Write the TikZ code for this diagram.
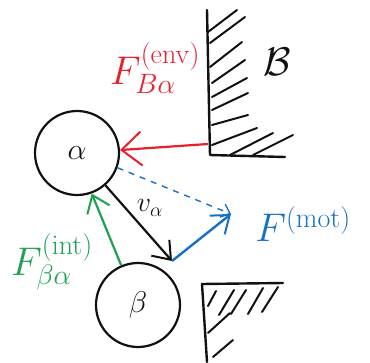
\documentclass[tikz,border=0pt]{standalone}
\usepackage{fix-cm}
\usepackage{amsmath}
\usepackage{xcolor}
\usepackage{tikz}
\usetikzlibrary{arrows.meta}
\definecolor{ink}{HTML}{111111}
\definecolor{penred}{HTML}{E8202C}
\definecolor{penblue}{HTML}{1570C8}
\definecolor{pengreen}{HTML}{1FA052}
\tikzset{
  every node/.style={text=ink},
  ball/.style={circle,draw=ink,line width=2.2pt,minimum size=84pt,inner sep=0pt,font=\fontsize{30}{32}\selectfont},
  wall/.style={draw=ink,line width=2.4pt,line cap=round,line join=round},
  hatch/.style={draw=ink,line width=2pt,line cap=round},
  barb/.style={-{Straight Barb[length=16pt,width=24pt,line width=2pt]}},
  envarr/.style={barb,draw=penred,line width=2.2pt,-{Straight Barb[length=20pt,width=34pt,line width=2pt]}},
  velarr/.style={barb,draw=ink,line width=2.2pt},
  motarr/.style={barb,draw=penblue,line width=2.4pt},
  motdash/.style={draw=penblue,line width=1.4pt,dash pattern=on 6pt off 6pt,-{Straight Barb[length=8pt,width=14pt,line width=1.4pt]}},
  intarr/.style={barb,draw=pengreen,line width=2.2pt},
  lbl/.style={inner sep=0pt,font=\fontsize{40}{44}\selectfont},
  vel/.style={inner sep=0pt,font=\fontsize{28}{30}\selectfont}
}
\begin{document}
\begin{tikzpicture}[x=1pt,y=-1pt]
  \useasboundingbox (0,0) rectangle (370,362);

  \draw[wall] (207,10) -- (210,155) -- (285,157);
  \foreach \xa/\ya/\xb/\yb in {208/32/237/10, 210/43/245/17, 210/67/242/42, 212/83/245/60, 212/97/247/78,
      212/110/248/93, 212/125/248/115, 212/145/257/128, 230/155/273/133, 253/155/293/135}
    \draw[hatch] (\xa,\ya) -- (\xb,\yb);
  \node[lbl] (wallB) at (277,62) {$\mathcal{B}$};

  \draw[wall] (207,362) -- (202,284) -- (283,283);
  \foreach \xa/\ya/\xb/\yb in {208/306/216/291, 219/315/234/290, 231/314/246/290, 248/314/263/288,
      262/312/278/287, 208/333/230/313, 213/357/233/340}
    \draw[hatch] (\xa,\ya) -- (\xb,\yb);

  \node[ball] (alpha) at (77,153) {$\alpha$};
  \node[ball] (beta) at (138,305) {$\beta$};
  \coordinate (envfoot) at (208,144);
  \coordinate (vtip) at (172,261);
  \coordinate (mottip) at (231,214);

  \draw[envarr] (envfoot) -- (alpha);
  \draw[velarr] (alpha) -- (vtip);
  \draw[motarr] (vtip) -- (mottip);
  \draw[motdash] (alpha.-20) -- (mottip);
  \draw[intarr] (beta.113) -- (alpha.-70);

  \node[lbl,text=penred] (envlbl) at (155,68) {$F^{(\mathrm{env})}_{B\alpha}$};
  \node[lbl,text=penblue] (motlbl) at (303,224) {$F^{(\mathrm{mot})}$};
  \node[lbl,text=pengreen] (intlbl) at (52,262) {$F^{(\mathrm{int})}_{\beta\alpha}$};
  \node[vel] (vlbl) at (150,208) {$v_\alpha$};
\end{tikzpicture}
\end{document}
